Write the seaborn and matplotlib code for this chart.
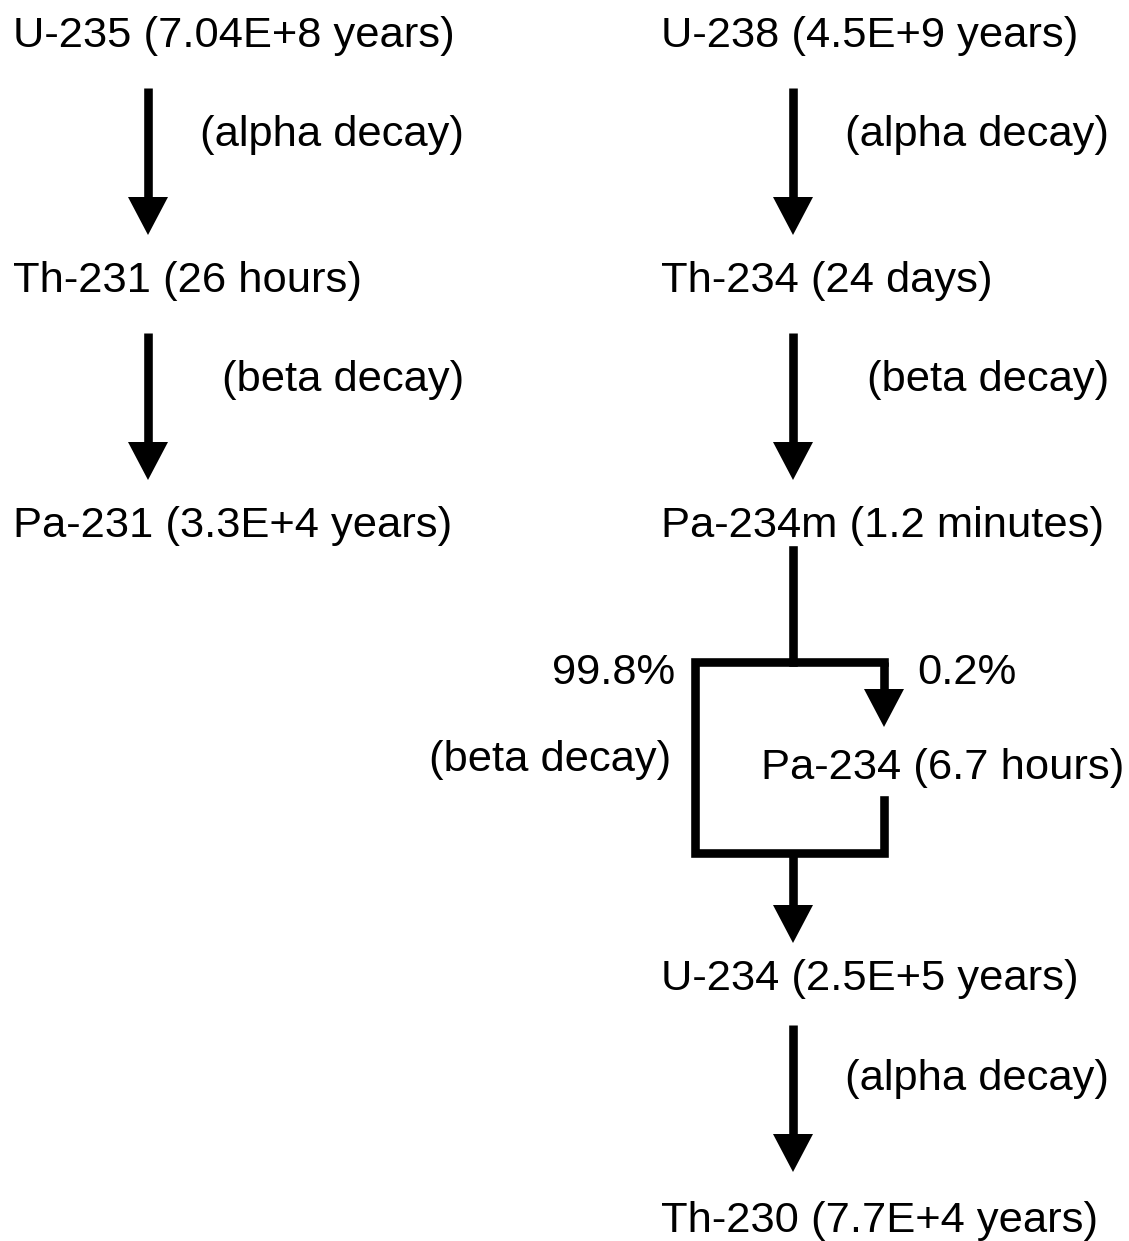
import matplotlib
matplotlib.use("Agg")
import matplotlib.pyplot as plt
import seaborn as sns

# ---- data ----
left_nodes = ["U-235 (7.04E+8 years)", "Th-231 (26 hours)", "Pa-231 (3.3E+4 years)"]
left_decays = ["(alpha decay)", "(beta decay)"]
right_nodes = ["U-238 (4.5E+9 years)", "Th-234 (24 days)", "Pa-234m (1.2 minutes)"]
right_decays = ["(alpha decay)", "(beta decay)"]
branch_main_pct = "99.8%"
branch_side_pct = "0.2%"
branch_decay = "(beta decay)"
branch_side_node = "Pa-234 (6.7 hours)"
lower_nodes = ["U-234 (2.5E+5 years)", "Th-230 (7.7E+4 years)"]
lower_decays = ["(alpha decay)"]

# ---- layout (pixel space) ----
W, H = 1129, 1241
row_base = [47, 292, 537]
decay_base = [146, 391]
FS = 31.3
LW = 6.2
HEAD_W = 20
HEAD_L = 38

sns.set_theme(style="white")
plt.rcParams["font.family"] = ["Liberation Sans", "DejaVu Sans"]

fig = plt.figure(figsize=(W / 100, H / 100), dpi=100)
ax = fig.add_axes([0, 0, 1, 1])
ax.set_xlim(0, W)
ax.set_ylim(H, 0)
ax.axis("off")


def txt(x, y, s, ha="left"):
    ax.text(x, y, s, fontsize=FS, ha=ha, va="baseline", color="black")


def arrow(x, y0, y1):
    ax.plot([x, x], [y0, y1 - HEAD_L + 2], color="black", lw=LW, solid_capstyle="butt")
    ax.fill([x - HEAD_W, x + HEAD_W, x], [y1 - HEAD_L, y1 - HEAD_L, y1], color="black", lw=0)


def seg(xs, ys):
    ax.plot(xs, ys, color="black", lw=LW, solid_capstyle="projecting", solid_joinstyle="miter")


# left chain
xL, xLa = 13, 148
for i, s in enumerate(left_nodes):
    txt(xL, row_base[i], s)
for i, s in enumerate(left_decays):
    txt(464, decay_base[i], s, ha="right")
    arrow(xLa, row_base[i] + 41, row_base[i + 1] - 57)

# right chain
xR, xRa = 661, 793
for i, s in enumerate(right_nodes):
    txt(xR, row_base[i], s)
for i, s in enumerate(right_decays):
    txt(1109, decay_base[i], s, ha="right")
    arrow(xRa, row_base[i] + 41, row_base[i + 1] - 57)

# branch
box_l, box_r, box_t, box_b = 695, 884, 662, 853
seg([xRa, xRa], [550, box_t])
seg([box_r, box_l, box_l, box_r, box_r], [box_t, box_t, box_b, box_b, 800])
arrow(box_r, box_t, 727)
arrow(xRa, box_b, 943)
txt(675, 684, branch_main_pct, ha="right")
txt(917, 684, branch_side_pct)
txt(671, 771, branch_decay, ha="right")
txt(761, 779, branch_side_node)

# lower chain
lower_base = [990, 1232]
for i, s in enumerate(lower_nodes):
    txt(xR, lower_base[i], s)
txt(1109, 1090, lower_decays[0], ha="right")
arrow(xRa, 1025, 1172)

fig.savefig("out.png", dpi=100, facecolor="white")
